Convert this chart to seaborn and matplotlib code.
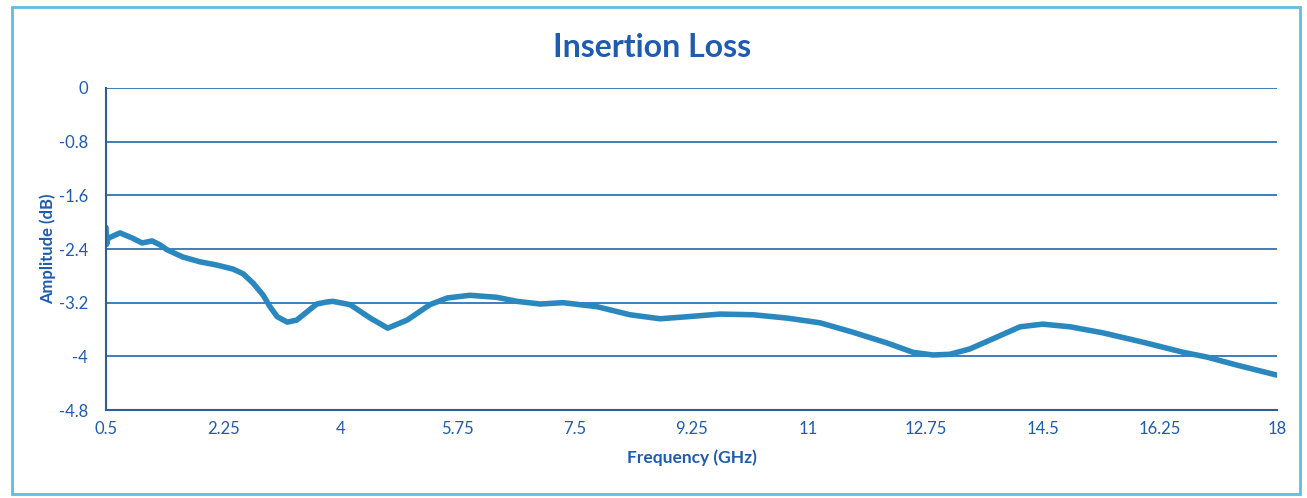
import matplotlib
matplotlib.use("Agg")
import matplotlib.pyplot as plt
from matplotlib.patches import Rectangle
import seaborn as sns
import pandas as pd

# insertion loss readings
freq_ghz = [0.50, 0.51, 0.53, 0.71, 0.90, 1.04, 1.19, 1.31, 1.41, 1.65, 1.90, 2.16, 2.40,
            2.55, 2.70, 2.85, 2.95, 3.06, 3.21, 3.35, 3.50, 3.65, 3.80, 3.89, 4.15, 4.45,
            4.71, 5.00, 5.34, 5.60, 5.94, 6.34, 6.64, 6.99, 7.33, 7.84, 8.33, 8.78, 9.18,
            9.68, 10.17, 10.68, 11.17, 11.66, 12.17, 12.56, 12.86, 13.11, 13.41, 13.82,
            14.16, 14.50, 14.91, 15.40, 16.00, 16.60, 16.95, 17.40, 18.00]
amp_db = [-2.08, -2.33, -2.24, -2.16, -2.24, -2.31, -2.28, -2.34, -2.41, -2.52, -2.59, -2.64, -2.70,
          -2.77, -2.91, -3.09, -3.26, -3.41, -3.49, -3.46, -3.34, -3.22, -3.19, -3.18, -3.23, -3.43,
          -3.58, -3.46, -3.23, -3.13, -3.09, -3.12, -3.18, -3.22, -3.20, -3.26, -3.38, -3.44, -3.41,
          -3.37, -3.38, -3.43, -3.50, -3.64, -3.80, -3.94, -3.98, -3.97, -3.89, -3.71,
          -3.56, -3.52, -3.56, -3.65, -3.79, -3.94, -4.01, -4.13, -4.28]

x_ticks = [0.5, 2.25, 4, 5.75, 7.5, 9.25, 11, 12.75, 14.5, 16.25, 18]
x_tick_labels = ["0.5", "2.25", "4", "5.75", "7.5", "9.25", "11", "12.75", "14.5", "16.25", "18"]
y_ticks = [0, -0.8, -1.6, -2.4, -3.2, -4, -4.8]
y_tick_labels = ["0", "-0.8", "-1.6", "-2.4", "-3.2", "-4", "-4.8"]

df = pd.DataFrame({"Frequency": freq_ghz, "Amplitude": amp_db})

sns.set_style("white")
plt.rcParams["font.family"] = ["Lato", "DejaVu Sans"]

text_blue = "#1f5bb0"
grid_blue = "#2f73b8"
line_col = "#2b88bf"

fig = plt.figure(figsize=(13.07, 4.98), dpi=100)
ax = fig.add_axes([0.0811, 0.1767, 0.8959, 0.6466])

sns.lineplot(data=df, x="Frequency", y="Amplitude", ax=ax, color=line_col,
             estimator=None, sort=False, linewidth=4,
             solid_capstyle="round", solid_joinstyle="round")

ax.set_xlim(0.5, 18)
ax.set_ylim(-4.8, 0)
ax.set_xticks(x_ticks)
ax.set_xticklabels(x_tick_labels)
ax.set_yticks(y_ticks)
ax.set_yticklabels(y_tick_labels)

for y in y_ticks:
    ax.axhline(y, color=grid_blue, linewidth=1.3, zorder=0)

for side in ["top", "right"]:
    ax.spines[side].set_visible(False)
for side in ["left", "bottom"]:
    ax.spines[side].set_color("#2d5d9a")
    ax.spines[side].set_linewidth(1.5)

ax.tick_params(axis="both", length=0, colors=text_blue, labelsize=12)
ax.tick_params(axis="y", pad=13)
ax.tick_params(axis="x", pad=8)

# title sits over the middle of the whole figure, not the axes
fig.text(0.499, 0.905, "Insertion Loss", color=text_blue, fontsize=23,
         fontweight="bold", ha="center", va="center")
ax.set_xlabel("Frequency (GHz)", color=text_blue, fontsize=12.5, fontweight="bold", labelpad=9)
ax.set_ylabel("Amplitude (dB)", color=text_blue, fontsize=12, fontweight="bold", labelpad=2)

# light blue frame round the whole chart
fig.patches.append(Rectangle((0.009, 0.008), 0.986, 0.978, transform=fig.transFigure,
                             fill=False, edgecolor="#62bde0", linewidth=2))

fig.savefig("out.png", dpi=100)
